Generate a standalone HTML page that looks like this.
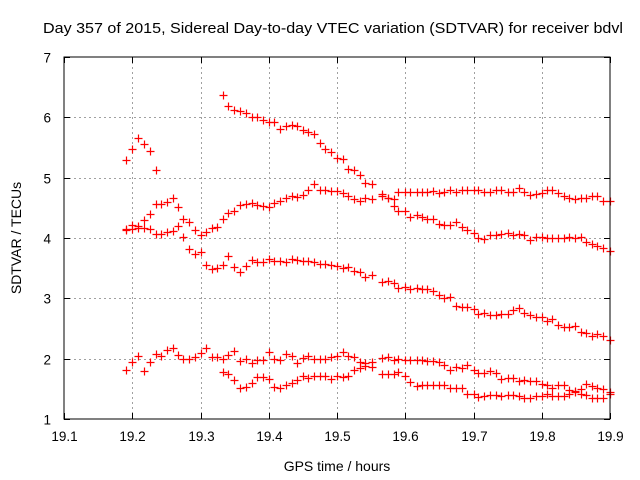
<!DOCTYPE html>
<html><head><meta charset="utf-8"><style>
html,body{margin:0;padding:0;background:#fff;}
svg{display:block;font-family:"Liberation Sans",sans-serif;}
</style></head><body>
<svg id="chart" width="640" height="480">
<text x="43" y="33" font-size="14.5" textLength="580" lengthAdjust="spacingAndGlyphs" fill="#000">Day 357 of 2015, Sidereal Day-to-day VTEC variation (SDTVAR) for receiver bdvl</text>
<text transform="translate(21,238) rotate(-90)" text-anchor="middle" font-size="14">SDTVAR / TECUs</text>
<text x="337" y="471" text-anchor="middle" font-size="14">GPS time / hours</text>
<g id="grid"></g><g id="ticks"></g><g id="marks"></g>
<rect x="64" y="57" width="546" height="362" fill="none" stroke="#000" stroke-width="1"/>
</svg>
<script>
const xTicks=[19.1,19.2,19.3,19.4,19.5,19.6,19.7,19.8,19.9];
const yTicks=[1,2,3,4,5,6,7];
const times=[19.191,19.2,19.208,19.217,19.226,19.235,19.242,19.251,19.26,19.267,19.274,19.283,19.292,19.3,19.308,19.317,19.324,19.333,19.34,19.349,19.358,19.367,19.375,19.383,19.392,19.4,19.408,19.416,19.425,19.434,19.441,19.45,19.458,19.466,19.475,19.482,19.491,19.5,19.509,19.516,19.525,19.534,
19.541,19.551,19.566,19.575,19.583,19.59,19.6,19.607,19.617,19.624,19.632,19.641,19.649,19.657,19.666,19.674,19.683,19.691,19.7,19.707,19.715,19.724,19.733,19.741,19.75,19.758,19.767,19.774,19.783,19.791,19.8,19.807,19.815,19.824,19.832,19.84,19.849,19.857,19.865,19.873,19.881,19.89,19.9];
const N=null;
const seriesA=[5.30,5.48,5.66,5.56,5.44,5.13];
const seriesB=[N,N,N,N,N,N,N,N,N,N,N,N,N,N,N,N,N,6.37,6.19,6.12,6.1,6.08,6.0,6.0,5.96,5.92,5.92,5.81,5.86,5.87,5.86,5.79,5.76,5.72,5.58,5.47,5.43,5.33,5.31,5.14,5.12,5.04,
4.91,4.9,4.73,4.66,4.53,4.45,4.45,4.35,4.38,4.35,4.32,4.32,4.23,4.22,4.22,4.27,4.18,4.13,4.08,4.0,3.99,4.05,4.05,4.06,4.08,4.05,4.06,4.05,3.97,4.02,4.02,4.0,4.0,4.0,4.0,4.02,4.0,4.01,3.93,3.9,3.87,3.84,3.79];
const seriesC=[4.15,4.22,4.2,4.3,4.4,4.56,4.57,4.6,4.67,4.52,4.32,4.27,4.13,4.05,4.1,4.17,4.18,4.32,4.42,4.45,4.55,4.57,4.58,4.55,4.53,4.52,4.58,4.62,4.66,4.7,4.68,4.72,4.8,4.9,4.8,4.8,4.78,4.78,4.75,4.7,4.65,4.62,
4.66,4.64,4.69,4.67,4.65,4.77,4.77,4.77,4.77,4.76,4.77,4.78,4.75,4.76,4.79,4.77,4.79,4.8,4.8,4.8,4.77,4.77,4.79,4.79,4.76,4.77,4.83,4.76,4.72,4.73,4.74,4.79,4.79,4.75,4.7,4.67,4.65,4.66,4.66,4.7,4.7,4.62,4.62];
const seriesD=[4.13,4.15,4.17,4.17,4.15,4.07,4.07,4.1,4.12,4.2,4.02,3.82,3.73,3.77,3.55,3.48,3.5,3.55,3.7,3.52,3.44,3.53,3.63,3.6,3.6,3.66,3.62,3.62,3.6,3.66,3.63,3.62,3.62,3.6,3.57,3.57,3.55,3.54,3.5,3.52,3.45,3.44,
3.36,3.38,3.27,3.28,3.25,3.17,3.18,3.16,3.17,3.16,3.15,3.12,3.05,3.0,3.02,2.87,2.85,2.85,2.82,2.74,2.76,2.73,2.73,2.74,2.74,2.8,2.84,2.76,2.72,2.69,2.69,2.63,2.65,2.56,2.53,2.52,2.54,2.44,2.42,2.38,2.41,2.38,2.31];
const seriesE=[1.81,1.94,2.04,1.8,1.94,2.08,2.05,2.14,2.18,2.06,1.99,2.0,2.03,2.1,2.17,2.03,2.03,1.99,2.06,2.13,1.96,2.0,1.93,1.98,1.98,2.11,2.0,1.98,2.07,2.05,1.93,2.01,2.04,2.0,2.0,2.0,2.02,2.04,2.11,2.04,2.03,1.95,
1.93,1.95,2.01,2.02,1.98,1.99,1.97,1.97,1.97,1.98,1.96,1.96,1.95,1.9,1.81,1.87,1.85,1.9,1.81,1.76,1.77,1.79,1.76,1.66,1.68,1.68,1.63,1.64,1.63,1.63,1.58,1.57,1.52,1.56,1.57,1.48,1.47,1.49,1.58,1.54,1.52,1.5,1.45];
const seriesF=[N,N,N,N,N,N,N,N,N,N,N,N,N,N,N,N,N,1.78,1.74,1.65,1.51,1.53,1.59,1.7,1.7,1.66,1.53,1.51,1.57,1.59,1.64,1.71,1.68,1.72,1.72,1.71,1.66,1.71,1.7,1.72,1.81,1.84,
1.88,1.87,1.75,1.75,1.74,1.78,1.72,1.61,1.55,1.57,1.57,1.57,1.57,1.57,1.51,1.51,1.51,1.41,1.41,1.36,1.38,1.39,1.39,1.38,1.39,1.39,1.38,1.34,1.34,1.38,1.38,1.42,1.38,1.38,1.38,1.42,1.44,1.42,1.4,1.35,1.35,1.35,1.42];
const allSeries=[seriesA,seriesB,seriesC,seriesD,seriesE,seriesF];

const X0=64,X1=610,Y0=419,Y1=57;
function xs(v){return X0+(v-19.1)/(19.9-19.1)*(X1-X0);}
function ys(v){return Y0-(v-1)/(7-1)*(Y0-Y1);}
const NS="http://www.w3.org/2000/svg";
function mk(tag,attrs,parent){const e=document.createElementNS(NS,tag);for(const k in attrs)e.setAttribute(k,attrs[k]);parent.appendChild(e);return e;}
const grid=document.getElementById('grid'),ticks=document.getElementById('ticks'),marks=document.getElementById('marks');
xTicks.forEach((t,i)=>{
  const x=Math.round(xs(t))+0.5;
  if(i>0&&i<xTicks.length-1){
    const g=mk('line',{x1:x,x2:x,y1:Y1,y2:Y0,stroke:'#a0a0a0','stroke-dasharray':'2,3'},grid);
    
    
  }
  mk('line',{x1:x,x2:x,y1:Y0,y2:Y0-6,stroke:'#000'},ticks);
  mk('line',{x1:x,x2:x,y1:Y1,y2:Y1+6,stroke:'#000'},ticks);
  const lb=mk('text',{x:x,y:441,'text-anchor':'middle','font-size':'13.5'},ticks);
  lb.textContent=t.toFixed(1);
  
  
});
yTicks.forEach((t,i)=>{
  const y=Math.round(ys(t))+0.5;
  if(i>0&&i<yTicks.length-1){
    const g=mk('line',{x1:X0,x2:X1,y1:y,y2:y,stroke:'#a0a0a0','stroke-dasharray':'2,3'},grid);
    
    
  }
  mk('line',{x1:X0,x2:X0+6,y1:y,y2:y,stroke:'#000'},ticks);
  mk('line',{x1:X1,x2:X1-6,y1:y,y2:y,stroke:'#000'},ticks);
  const lb=mk('text',{x:51,y:y+5,'text-anchor':'end','font-size':'13.5'},ticks);
  lb.textContent=String(t);
  
  
});
allSeries.forEach((s,si)=>{
  s.forEach((v,i)=>{
    if(v===null||v===undefined)return;
    const x=Math.round(xs(times[i]))+0.5,y=Math.round(ys(v))+0.5;
    const p=mk('path',{d:`M${x-4},${y}H${x+4}M${x},${y-4}V${y+4}`,stroke:'#ff0000','stroke-width':'1.2',fill:'none'},marks);
    
    
  });
});
</script>
</body></html>
